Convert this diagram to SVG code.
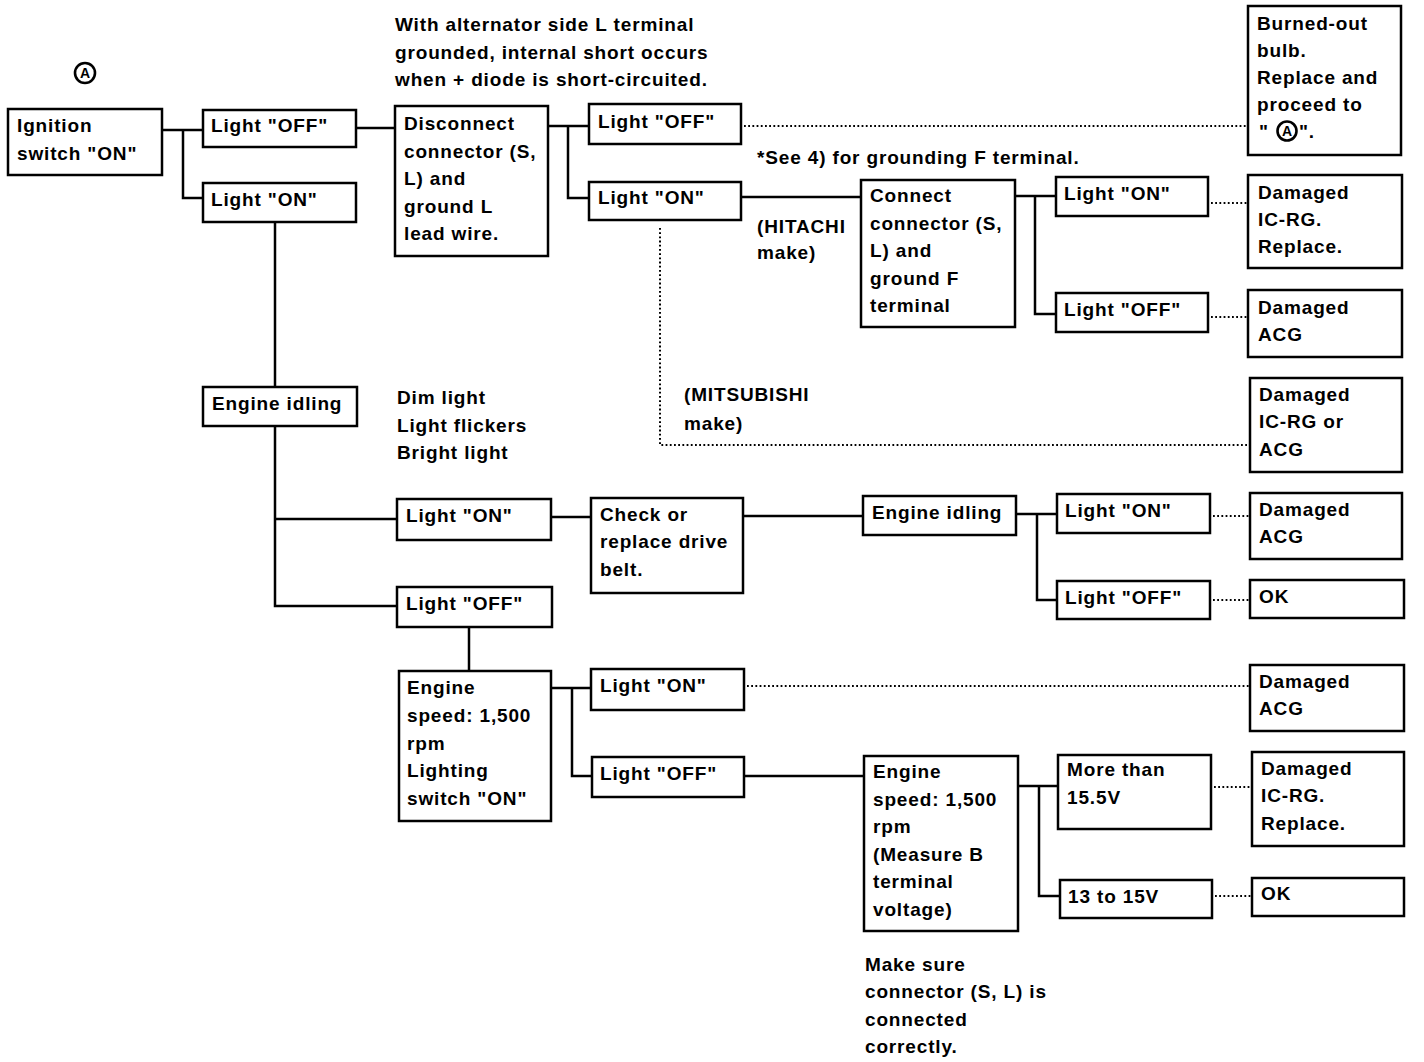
<svg xmlns="http://www.w3.org/2000/svg" width="1424" height="1062" viewBox="0 0 1424 1062">
<style>
rect.b{fill:#fff;stroke:#000;stroke-width:2.5}
text{font-family:"Liberation Sans",Arial,Helvetica,sans-serif;font-size:19px;font-weight:bold;letter-spacing:0.85px;fill:#000}
text.a{font-size:14px;letter-spacing:0;text-anchor:middle}
circle.a{fill:none;stroke:#000;stroke-width:2.6}
.c path{fill:none;stroke:#000;stroke-width:2.5}
.c path.d{stroke-width:2;stroke-dasharray:1.8 2.4}
</style>
<rect width="1424" height="1062" fill="#fff"/>
<g id="connectors" class="c">
<path d="M162,130H203M183,130V198H203"/>
<path d="M356,128H395"/>
<path d="M275,222V387"/>
<path d="M548,126H589M568,126V198H589"/>
<path d="M741,197H861"/>
<path d="M1015,196H1056M1035,196V314H1056"/>
<path d="M275,426V606H397M275,519H397"/>
<path d="M551,517H591"/>
<path d="M743,516H863"/>
<path d="M1016,514H1057M1037,514V600H1057"/>
<path d="M469,627V671"/>
<path d="M551,688H591M572,688V776H592"/>
<path d="M744,776H864"/>
<path d="M1018,786H1058M1039,786V896H1060"/>
<path class="d" d="M744,126H1248"/>
<path class="d" d="M1211,203H1248"/>
<path class="d" d="M1211,317H1248"/>
<path class="d" d="M660,228V445H1250"/>
<path class="d" d="M1213,516H1250"/>
<path class="d" d="M1213,600H1250"/>
<path class="d" d="M747,686H1250"/>
<path class="d" d="M1214,787H1252"/>
<path class="d" d="M1215,896H1252"/>
</g>
<g id="markA"><circle class="a" cx="85" cy="73" r="10"/><text class="a" x="85" y="78">A</text></g>
<g id="note_top"><text x="395" y="31">With alternator side L terminal</text><text x="395" y="58.5">grounded, internal short occurs</text><text x="395" y="86">when + diode is short-circuited.</text></g>
<g id="note_see"><text x="757" y="164">*See 4) for grounding F terminal.</text></g>
<g id="note_hitachi"><text x="757" y="233">(HITACHI</text><text x="757" y="259">make)</text></g>
<g id="note_mitsubishi"><text x="684" y="401">(MITSUBISHI</text><text x="684" y="430">make)</text></g>
<g id="note_dim"><text x="397" y="404">Dim light</text><text x="397" y="432">Light flickers</text><text x="397" y="459">Bright light</text></g>
<g id="note_make"><text x="865" y="971">Make sure</text><text x="865" y="998">connector (S, L) is</text><text x="865" y="1026">connected</text><text x="865" y="1053">correctly.</text></g>
<g id="n_ign"><rect class="b" x="8" y="109" width="154" height="66"/><text x="17" y="132">Ignition</text><text x="17" y="160">switch "ON"</text></g>
<g id="n_off1"><rect class="b" x="203" y="110" width="153" height="37"/><text x="211" y="132">Light "OFF"</text></g>
<g id="n_on1"><rect class="b" x="203" y="183" width="153" height="39"/><text x="211" y="206">Light "ON"</text></g>
<g id="n_disc"><rect class="b" x="395" y="106" width="153" height="150"/><text x="404" y="130">Disconnect</text><text x="404" y="157.5">connector (S,</text><text x="404" y="185">L) and</text><text x="404" y="212.5">ground L</text><text x="404" y="240">lead wire.</text></g>
<g id="n_off2"><rect class="b" x="589" y="104" width="152" height="40"/><text x="598" y="128">Light "OFF"</text></g>
<g id="n_on2"><rect class="b" x="589" y="182" width="152" height="38"/><text x="598" y="204">Light "ON"</text></g>
<g id="n_burned"><rect class="b" x="1248" y="6" width="153" height="149"/><text x="1257" y="30">Burned-out</text><text x="1257" y="57">bulb.</text><text x="1257" y="84">Replace and</text><text x="1257" y="111">proceed to</text><text x="1259" y="138">"</text><circle class="a" cx="1287" cy="131" r="9.5"/><text class="a" x="1287" y="136">A</text><text x="1299" y="138">".</text></g>
<g id="n_connect"><rect class="b" x="861" y="180" width="154" height="147"/><text x="870" y="202">Connect</text><text x="870" y="229.5">connector (S,</text><text x="870" y="257">L) and</text><text x="870" y="284.5">ground F</text><text x="870" y="312">terminal</text></g>
<g id="n_on3"><rect class="b" x="1056" y="177" width="152" height="39"/><text x="1064" y="200">Light "ON"</text></g>
<g id="n_off3"><rect class="b" x="1056" y="293" width="152" height="39"/><text x="1064" y="316">Light "OFF"</text></g>
<g id="n_icrg1"><rect class="b" x="1248" y="175" width="154" height="93"/><text x="1258" y="199">Damaged</text><text x="1258" y="226">IC-RG.</text><text x="1258" y="253">Replace.</text></g>
<g id="n_acg1"><rect class="b" x="1248" y="290" width="154" height="67"/><text x="1258" y="314">Damaged</text><text x="1258" y="341">ACG</text></g>
<g id="n_icrgacg"><rect class="b" x="1250" y="378" width="152" height="94"/><text x="1259" y="401">Damaged</text><text x="1259" y="428">IC-RG or</text><text x="1259" y="456">ACG</text></g>
<g id="n_idle1"><rect class="b" x="203" y="387" width="154" height="39"/><text x="212" y="410">Engine idling</text></g>
<g id="n_on4"><rect class="b" x="397" y="499" width="154" height="41"/><text x="406" y="522">Light "ON"</text></g>
<g id="n_off4"><rect class="b" x="397" y="587" width="155" height="40"/><text x="406" y="610">Light "OFF"</text></g>
<g id="n_check"><rect class="b" x="591" y="498" width="152" height="95"/><text x="600" y="521">Check or</text><text x="600" y="548">replace drive</text><text x="600" y="576">belt.</text></g>
<g id="n_idle2"><rect class="b" x="863" y="496" width="153" height="39"/><text x="872" y="519">Engine idling</text></g>
<g id="n_on5"><rect class="b" x="1057" y="494" width="153" height="39"/><text x="1065" y="517">Light "ON"</text></g>
<g id="n_off5"><rect class="b" x="1057" y="581" width="153" height="38"/><text x="1065" y="604">Light "OFF"</text></g>
<g id="n_acg2"><rect class="b" x="1250" y="493" width="152" height="66"/><text x="1259" y="516">Damaged</text><text x="1259" y="543">ACG</text></g>
<g id="n_ok1"><rect class="b" x="1250" y="580" width="154" height="38"/><text x="1259" y="603">OK</text></g>
<g id="n_speed1"><rect class="b" x="399" y="671" width="152" height="150"/><text x="407" y="694">Engine</text><text x="407" y="721.75">speed: 1,500</text><text x="407" y="749.5">rpm</text><text x="407" y="777.25">Lighting</text><text x="407" y="805">switch "ON"</text></g>
<g id="n_on6"><rect class="b" x="591" y="669" width="153" height="41"/><text x="600" y="692">Light "ON"</text></g>
<g id="n_off6"><rect class="b" x="592" y="757" width="152" height="40"/><text x="600" y="780">Light "OFF"</text></g>
<g id="n_acg3"><rect class="b" x="1250" y="665" width="154" height="66"/><text x="1259" y="688">Damaged</text><text x="1259" y="715">ACG</text></g>
<g id="n_speed2"><rect class="b" x="864" y="756" width="154" height="175"/><text x="873" y="778">Engine</text><text x="873" y="805.5">speed: 1,500</text><text x="873" y="833">rpm</text><text x="873" y="860.5">(Measure B</text><text x="873" y="888">terminal</text><text x="873" y="915.5">voltage)</text></g>
<g id="n_more"><rect class="b" x="1058" y="755" width="153" height="74"/><text x="1067" y="776">More than</text><text x="1067" y="804">15.5V</text></g>
<g id="n_v1315"><rect class="b" x="1060" y="880" width="152" height="38"/><text x="1068" y="903">13 to 15V</text></g>
<g id="n_icrg2"><rect class="b" x="1252" y="752" width="152" height="94"/><text x="1261" y="775">Damaged</text><text x="1261" y="802">IC-RG.</text><text x="1261" y="830">Replace.</text></g>
<g id="n_ok2"><rect class="b" x="1252" y="878" width="152" height="38"/><text x="1261" y="900">OK</text></g>
</svg>
